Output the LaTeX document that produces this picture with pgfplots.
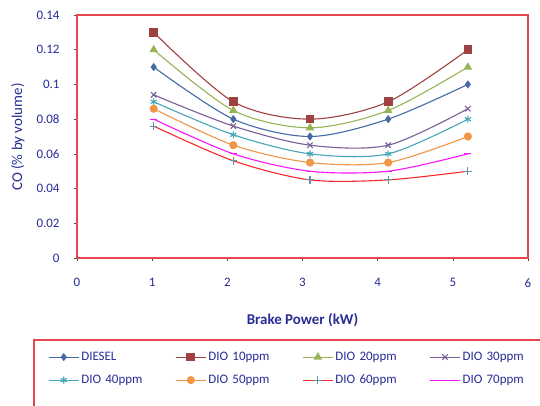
\documentclass[border=0pt]{standalone}
\usepackage{pgfplots}
\pgfplotsset{compat=1.18}
\usepackage{fontspec}
\setmainfont{Carlito}
\definecolor{txt}{RGB}{40,45,150}
\definecolor{axred}{RGB}{230,70,80}
\definecolor{c1}{RGB}{70,105,165}
\definecolor{c2}{RGB}{160,65,65}
\definecolor{c3}{RGB}{150,180,85}
\definecolor{c4}{RGB}{120,95,150}
\definecolor{c5}{RGB}{70,165,185}
\definecolor{c6}{RGB}{240,150,70}
\definecolor{c7}{RGB}{250,40,40}
\definecolor{c8}{RGB}{250,20,250}
\pgfplotsset{
  legend image code/.code={
    \draw[mark repeat=2,mark phase=2,#1] plot coordinates {(0bp,0bp) (15bp,0bp) (30bp,0bp)};
  },
}
\begin{document}
\begin{tikzpicture}[x=1bp,y=1bp]
\useasboundingbox (0,0) rectangle (540,405);
\fill[white] (0,0) rectangle (540,405);
\begin{axis}[
  at={(77bp,147bp)}, anchor=south west,
  scale only axis, width=451bp, height=243bp,
  xmin=0, xmax=6, ymin=0, ymax=0.14,
  xtick={0,1,2,3,4,5,6},
  xticklabels={0,1,2,3,4,5,6},
  ytick={0,0.02,0.04,0.06,0.08,0.1,0.12,0.14},
  yticklabels={0,0.02,0.04,0.06,0.08,0.1,0.12,0.14},
  /pgf/number format/assume math mode=true,
  axis line style={draw=axred, line width=1.3pt},
  tick style={draw=black!70, line width=0.6pt},
  tick align=outside, major tick length=3bp,
  xtick pos=bottom, ytick pos=left,
  ticklabel style={font=\fontsize{13}{15}\selectfont, text=txt},
  xticklabel style={yshift=-14bp},
  yticklabel style={xshift=-11bp},
  xlabel={\textbf{Brake Power (kW)}},
  xlabel style={font=\fontsize{15}{17}\selectfont, text=txt, at={(axis description cs:0.5,-0.255)}, anchor=center},
  ylabel={CO (\% by volume)},
  ylabel style={font=\fontsize{15}{17}\selectfont, text=txt, at={(axis description cs:-0.131,0.498)}, anchor=center},
  legend columns=4,
  legend cell align=left,
  legend style={
    at={(-0.0776,-0.37)}, anchor=north west,
    draw=none, fill=none,
    font=\fontsize{13}{15}\selectfont, text=txt,
    inner xsep=6bp, inner ysep=2bp,
    row sep=9bp,
    /tikz/every even column/.append style={text width=92bp},
  },
  every axis plot/.append style={smooth, tension=0.5, line width=1.1pt},
]
\addplot[c1, mark=diamond*, mark size=3.2bp, mark options={fill=c1}] coordinates {(1.02,0.110) (2.08,0.080) (3.1,0.070) (4.14,0.080) (5.2,0.100)};
\addlegendentry{DIESEL}
\addplot[c2, mark=square*, mark size=3.8bp, mark options={fill=c2}] coordinates {(1.02,0.130) (2.08,0.090) (3.1,0.080) (4.14,0.090) (5.2,0.120)};
\addlegendentry{DIO 10ppm}
\addplot[c3, mark=triangle*, mark size=3.8bp, mark options={fill=c3}] coordinates {(1.02,0.120) (2.08,0.085) (3.1,0.075) (4.14,0.085) (5.2,0.110)};
\addlegendentry{DIO 20ppm}
\addplot[c4, mark=x, mark size=3.8bp] coordinates {(1.02,0.094) (2.08,0.076) (3.1,0.065) (4.14,0.065) (5.2,0.086)};
\addlegendentry{DIO 30ppm}
\addplot[c5, mark=asterisk, mark size=3.5bp] coordinates {(1.02,0.090) (2.08,0.071) (3.1,0.060) (4.14,0.060) (5.2,0.080)};
\addlegendentry{DIO 40ppm}
\addplot[c6, mark=*, mark size=3.5bp, mark options={fill=c6}] coordinates {(1.02,0.086) (2.08,0.065) (3.1,0.055) (4.14,0.055) (5.2,0.070)};
\addlegendentry{DIO 50ppm}
\addplot[c7, mark=+, mark size=3.8bp, mark options={draw=c5!60!gray}] coordinates {(1.02,0.076) (2.08,0.056) (3.1,0.045) (4.14,0.045) (5.2,0.050)};
\addlegendentry{DIO 60ppm}
\addplot[c8, mark=-, mark size=3.5bp] coordinates {(1.02,0.080) (2.08,0.060) (3.1,0.050) (4.14,0.050) (5.2,0.060)};
\addlegendentry{DIO 70ppm}
\end{axis}
\draw[axred, line width=1.3pt] (34,-10) |- (560,65);
\end{tikzpicture}
\end{document}
